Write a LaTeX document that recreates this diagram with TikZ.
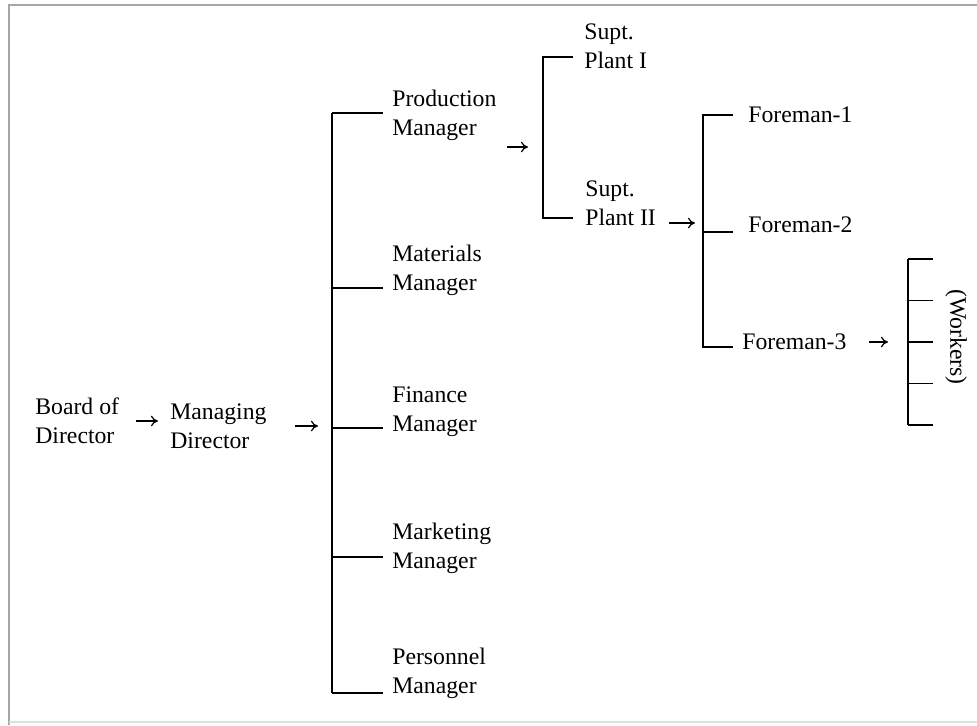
\documentclass[tikz,border=0pt]{standalone}
\usepackage{fontspec}
\setmainfont{Liberation Serif}
\usetikzlibrary{arrows.meta}

\begin{document}
\begin{tikzpicture}[x=0.02cm, y=-0.02cm,
		lbl/.style={anchor=west, align=left, inner sep=0pt, font=\fontsize{13.5}{16.5}\selectfont},
		bar/.style={line width=1.1pt},
		arr/.style={-{To[length=4pt,width=6pt]}, line width=0.7pt}]
		\useasboundingbox (0,0) rectangle (977,725);
		% frame of the scan
		\draw[gray!70, line width=1pt] (9,725) -- (9,5) -- (977,5);
		\draw[gray!25, line width=1pt] (9,722) -- (977,722);

		\path
		(35,421) node[lbl] (bod) {Board of\\Director}
		(170,426) node[lbl] (md) {Managing\\Director}
		(392,115) node[lbl] (prod) {Production\\Manager}
		(392,270) node[lbl] (mat) {Materials\\Manager}
		(392,412) node[lbl] (fin) {Finance\\Manager}
		(392,548) node[lbl] (mkt) {Marketing\\Manager}
		(392,673) node[lbl] (pers) {Personnel\\Manager}
		(584,46) node[lbl] (plant1) {Supt.\\Plant I}
		(585,203) node[lbl] (plant2) {Supt.\\Plant II}
		(748,115) node[lbl] (fm1) {Foreman-1}
		(748,225) node[lbl] (fm2) {Foreman-2}
		(742,342) node[lbl] (fm3) {Foreman-3}
		(956,337) node[lbl, anchor=center, rotate=-90] (wrk) {(Workers)};

		% managers
		\coordinate (mgr-top) at (332,113);
		\coordinate (mgr-bot) at (332,693);
		\draw[bar] (mgr-top) -- (mgr-bot);
		\foreach \n/\y in {prod/113, mat/288, fin/428, mkt/557, pers/693} {
			\coordinate (\n-in) at (383,\y);
			\draw[bar] (mgr-top |- \n-in) -- (\n-in);
		}

		% superintendents
		\coordinate (supt-top) at (543,57);
		\coordinate (supt-bot) at (543,218);
		\coordinate (supt-mid) at (543,147);
		\draw[bar] (573,57) -- (supt-top) -- (supt-bot) -- (573,218);

		% foremen
		\coordinate (fm-top) at (703,115);
		\coordinate (fm-bot) at (703,347);
		\coordinate (fm-mid) at (703,223);
		\draw[bar] (733,115) -- (fm-top) -- (fm-bot) -- (733,347);
		\draw[bar] (fm-top |- 0,232) -- (733,232);

		% workers
		\coordinate (wrk-top) at (908,259);
		\coordinate (wrk-bot) at (908,425);
		\draw[bar] (wrk-top) -- (wrk-bot);
		\foreach \y in {259, 300.5, 342, 383.5, 425}
			\draw[bar] (908,\y) -- (933,\y);

		% arrows
		\draw[arr, shorten <=3.4mm, shorten >=2.4mm] (bod.east) -- (bod.east -| md.west);
		\draw[arr, shorten <=5.6mm, shorten >=2.8mm] (md.east) -- (md.east -| mgr-top);
		\draw[arr, shorten <=2mm, shorten >=3mm] (supt-mid -| prod.east) -- (supt-mid);
		\draw[arr, shorten <=2.6mm, shorten >=1.6mm] (fm-mid -| plant2.east) -- (fm-mid);
		\draw[arr, shorten <=4.4mm, shorten >=4mm] (fm3.east) -- (fm3.east -| wrk-top);
	\end{tikzpicture}
\end{document}
